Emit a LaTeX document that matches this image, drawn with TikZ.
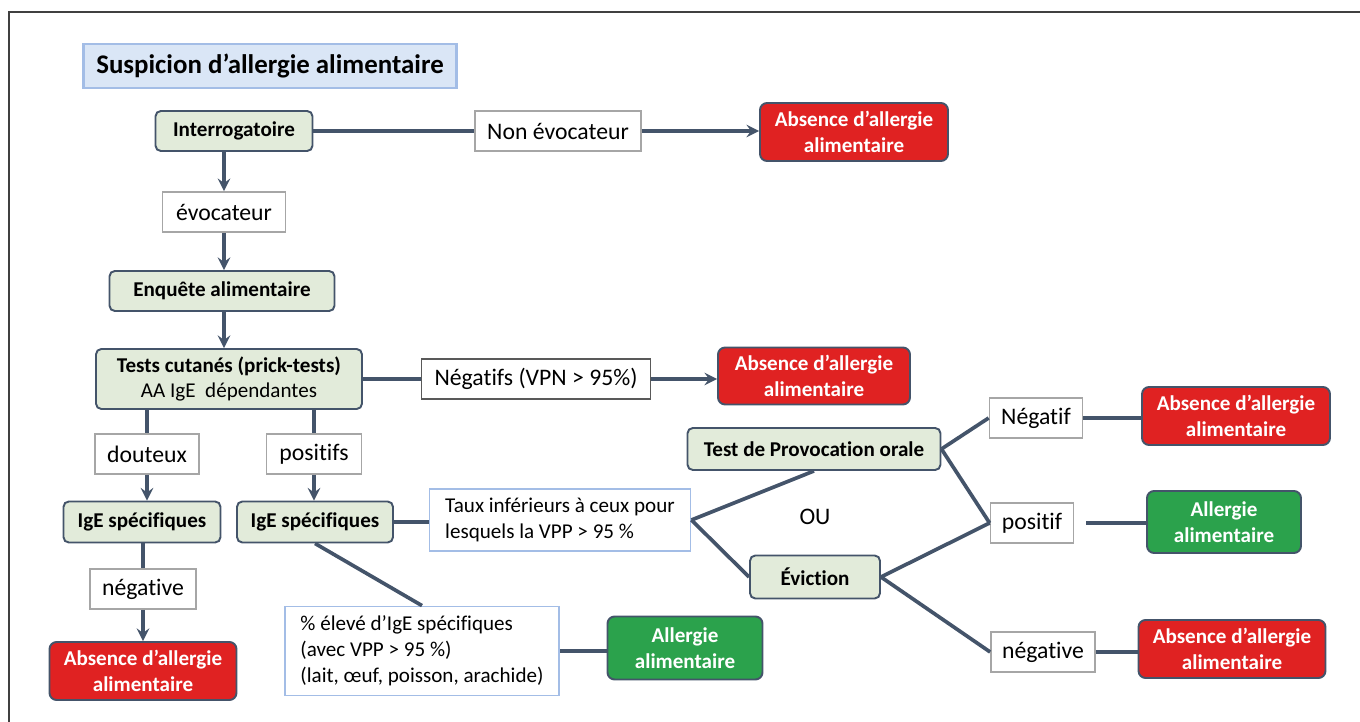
\documentclass[tikz,border=0pt]{standalone}
\usepackage{fontspec}
\setmainfont[Ligatures={TeX,NoCommon}]{Carlito}
\usepackage{xcolor}
\usepackage{tikz}
\usetikzlibrary{shapes.geometric, arrows, positioning, calc}
\definecolor{linec}{HTML}{44546A}
\definecolor{stagefill}{HTML}{E2EBDA}
\definecolor{redfill}{HTML}{E02222}
\definecolor{greenfill}{HTML}{2BA24C}
\definecolor{titlefill}{HTML}{DAE6F6}
\definecolor{titleline}{HTML}{A3BDE6}
\definecolor{labelline}{HTML}{A6A6A6}

\begin{document}
\begin{tikzpicture}[
    x=0.02cm, y=-0.02cm,
    title/.style={rectangle, draw=titleline, fill=titlefill, line width=1.2pt, minimum height=0.88cm, font=\fontsize{15.3}{18}\selectfont\bfseries},
    stage/.style={rectangle, rounded corners=3pt, draw=linec, fill=stagefill, line width=1.1pt, minimum height=0.8cm, align=center, font=\fontsize{12}{14.7}\selectfont\bfseries},
    absent/.style={rectangle, rounded corners=4pt, draw=linec, fill=redfill, line width=1.1pt, minimum height=1.16cm, align=center, text=white, font=\fontsize{12}{14.7}\selectfont\bfseries},
    present/.style={absent, fill=greenfill},
    answer/.style={rectangle, draw=labelline, fill=white, line width=1pt, minimum height=0.8cm, font=\fontsize{13.5}{16}\selectfont},
    note/.style={rectangle, draw=titleline, fill=white, line width=1pt, align=left, inner xsep=9pt, font=\fontsize{12}{14.7}\selectfont},
    link/.style={line width=2.1pt, draw=linec},
    arrow/.style={link, ->, >=stealth},
]
    \useasboundingbox (0,0) rectangle (1360,722);
    \draw [black!75, line width=0.6pt] (9,722) -- (9,12) -- (1360,12);

    \node (title) [title, minimum width=7.46cm] at (270,66) {Suspicion d’allergie alimentaire};

    % left column
    \node (interro) [stage, minimum width=3.14cm] at (234,131) {Interrogatoire};
    \node (nonevoc) [answer, minimum width=3.32cm] at (558,131) {Non évocateur};
    \node (abs1) [absent, minimum width=3.76cm] at (854,132) {Absence d’allergie\\alimentaire};
    \node (evoc) [answer, minimum width=2.46cm] at (224,212) {évocateur};
    \node (enquete) [stage, minimum width=4.5cm] at (222,291) {Enquête alimentaire};
    \node (tests) [stage, minimum width=5.32cm, minimum height=1.2cm] at (229,379) {Tests cutanés (prick-tests)\\{\mdseries AA IgE\ \ dépendantes}};
    \node (negatifs) [answer, draw=black!65, minimum width=4.58cm] at (536,379) {Négatifs (VPN > 95\%)};
    \node (abs2) [absent, minimum width=3.84cm, minimum height=1.14cm] at (814,376) {Absence d’allergie\\alimentaire};
    \node (douteux) [answer, minimum width=2.08cm] at (147,454) {douteux};
    \node (positifs) [answer, minimum width=1.9cm] at (314,454) {positifs};
    \node (ige1) [stage, minimum width=3.14cm, minimum height=0.82cm] at (142,522) {IgE spécifiques};
    \node (ige2) [stage, minimum width=3.12cm, minimum height=0.82cm] at (315,522) {IgE spécifiques};
    \node (negleft) [answer, minimum width=2.12cm] at (143,589) {négative};
    \node (abs3) [absent, minimum width=3.74cm] at (143,671) {Absence d’allergie\\alimentaire};
    \node (taux) [note, minimum width=5.2cm, minimum height=1.24cm] at (560,520) {Taux inférieurs à ceux pour\\lesquels la VPP > 95 \%};
    \node (pct) [note, minimum width=5.38cm, minimum height=1.78cm] at (422,651) {\% élevé d'IgE spécifiques\\(avec VPP > 95 \%)\\(lait, œuf, poisson, arachide)};
    \node (all1) [present, minimum width=3.1cm, minimum height=1.26cm] at (685,648) {Allergie\\alimentaire};

    % right part
    \node (tpo) [stage, minimum width=5.06cm, minimum height=0.84cm] at (814,449) {Test de Provocation orale};
    \node (ou) [font=\fontsize{13.5}{16}\selectfont] at (815,517) {OU};
    \node (evic) [stage, minimum width=2.6cm, minimum height=0.86cm] at (815,577) {Éviction};
    \node (negatif) [answer, minimum width=1.86cm] at (1036,418) {Négatif};
    \node (abs4) [absent, minimum width=3.76cm] at (1236,416) {Absence d’allergie\\alimentaire};
    \node (positif) [answer, minimum width=1.66cm] at (1032,523) {positif};
    \node (all2) [present, minimum width=3.08cm, minimum height=1.24cm] at (1224,522) {Allergie\\alimentaire};
    \node (negright) [answer, minimum width=2.08cm] at (1043,652) {négative};
    \node (abs5) [absent, minimum width=3.74cm] at (1232,649) {Absence d’allergie\\alimentaire};

    \draw [link] (interro) -- (nonevoc);
    \draw [arrow] (nonevoc.east) -- (nonevoc.east -| abs1.west);
    \draw [arrow] (interro.south -| evoc) -- (evoc);
    \draw [arrow] (evoc) -- (evoc |- enquete.north);
    \draw [arrow] (evoc |- enquete.south) -- (evoc |- tests.north);
    \draw [link] (tests) -- (negatifs);
    \draw [arrow] (negatifs.east) -- (negatifs.east -| abs2.west);
    \draw [link] (douteux |- tests.south) -- (douteux);
    \draw [arrow] (douteux) -- (douteux |- ige1.north);
    \draw [link] (positifs |- tests.south) -- (positifs);
    \draw [arrow] (positifs) -- (positifs |- ige2.north);
    \draw [link] (negleft |- ige1.south) -- (negleft);
    \draw [arrow] (negleft) -- (negleft |- abs3.north);
    \draw [link] (ige2.east) -- (ige2.east -| taux.west);
    \draw [link] (ige2.south) -- (pct.north);
    \draw [link] (pct.east) -- (pct.east -| all1.west);
    \draw [link] (taux.east) -- (tpo.south);
    \draw [link] (taux.east) -- (evic.west);
    \draw [link] (tpo.east) -- (negatif.west);
    \draw [link] (tpo.east) -- (positif.west);
    \draw [link] (evic.east) -- (positif.west);
    \draw [link] (evic.east) -- (negright.west);
    \draw [link] (negatif.east) -- (negatif.east -| abs4.west);
    \draw [link, shorten <=0.24cm] (positif.east) -- (positif.east -| all2.west);
    \draw [link] (negright.east) -- (negright.east -| abs5.west);
\end{tikzpicture}
\end{document}
